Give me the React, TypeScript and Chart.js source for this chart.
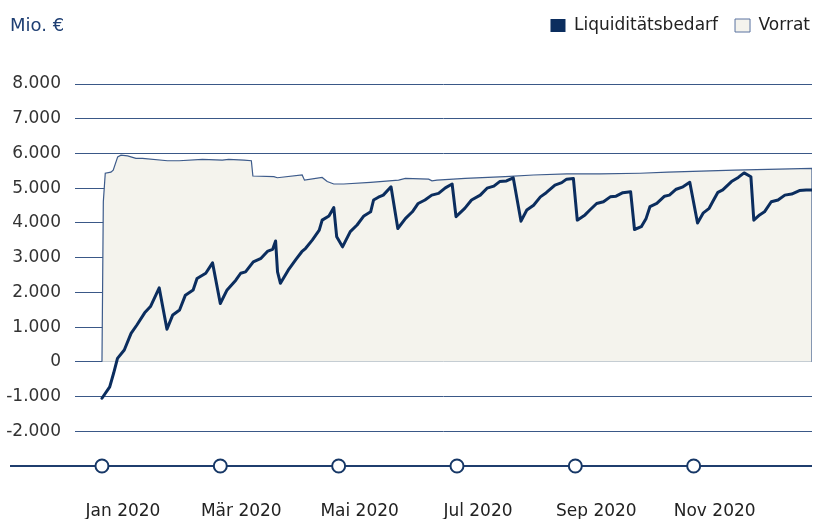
import { useEffect, useRef } from 'react';
import { Chart, registerables } from 'chart.js';

Chart.register(...registerables);

const FONT = "'DejaVu Sans', sans-serif";
const NAVY = '#0b2d5e';
const GRID = '#3a5887';
const FILL = '#f4f3ed';

// Liquiditätsbedarf: [day of year, Mio. €]
const liquiditaet: [number, number][] = [
  [0, -1050], [4, -720], [6, -330], [8, 100], [11.5, 340], [15, 820], [18, 1060], [22, 1410], [25, 1590],
  [29.5, 2130], [33.5, 940], [36.5, 1350], [40, 1490], [43, 1920], [47, 2070], [49, 2400], [53.5, 2550],
  [57, 2850], [61, 1680], [64.5, 2070], [69, 2350], [71.5, 2550], [74, 2590], [78, 2880], [82, 2980],
  [85.5, 3190], [88, 3240], [89.5, 3480], [90.5, 2590], [92, 2260], [96, 2640], [100, 2950], [103, 3170],
  [105, 3270], [108.5, 3510], [112, 3790], [113.5, 4080], [117, 4200], [119.5, 4440], [121, 3600],
  [124, 3310], [128, 3750], [131.5, 3940], [135, 4200], [138.5, 4320], [140, 4660], [142.5, 4740],
  [145, 4800], [149, 5040], [152.5, 3840], [156.5, 4130], [160, 4320], [163, 4560], [166.5, 4660],
  [170, 4800], [173.5, 4850], [177, 5010], [180.5, 5120], [182.5, 4180], [187, 4420], [190.5, 4660],
  [195, 4800], [198.5, 5000], [202, 5060], [205, 5190], [208.5, 5210], [212, 5300], [216, 4050],
  [219, 4370], [222.5, 4510], [226, 4750], [229, 4870], [233.5, 5090], [237, 5160], [239.5, 5260],
  [243, 5280], [245, 4080], [249, 4230], [251.5, 4370], [255, 4560], [258.5, 4610], [262, 4750],
  [265, 4770], [268.5, 4870], [272.5, 4900], [274.5, 3810], [278, 3890], [280.5, 4130], [282.5, 4470],
  [286, 4560], [290, 4770], [292.5, 4800], [296, 4970], [299.5, 5040], [303, 5170], [307, 4000],
  [310, 4290], [313, 4420], [315, 4630], [317.5, 4880], [320, 4950], [324.5, 5190], [328, 5310],
  [331, 5440], [334.5, 5330], [336, 4080], [339, 4230], [341.5, 4320], [345, 4610], [348.5, 4660],
  [352, 4800], [355.5, 4830], [359.5, 4930], [363, 4950], [366, 4950],
];

// Vorrat: [day of year, Mio. €]
const vorrat: [number, number][] = [
  [0, 0], [0.7, 4610], [1.7, 5430], [4.6, 5460], [5.8, 5520], [8.1, 5900], [9.8, 5950], [13.2, 5930],
  [17.5, 5860], [20.9, 5860], [33.8, 5790], [39.8, 5790], [51.8, 5830], [62, 5810], [65.3, 5830],
  [73.2, 5810], [77, 5790], [77.8, 5350], [88.6, 5330], [90.4, 5300], [103.2, 5380], [104.4, 5230],
  [113.5, 5310], [116.1, 5190], [119.5, 5120], [124.6, 5120], [138.4, 5170], [152.9, 5230],
  [156.4, 5280], [168.4, 5260], [170.1, 5210], [172.7, 5230], [187.2, 5280], [207.8, 5330],
  [222.4, 5380], [239.6, 5410], [256.7, 5410], [277.3, 5430], [291.7, 5460], [326.1, 5520],
  [366, 5570], [366, 0],
];

const tickDays = [0, 61, 122, 183, 244, 305];
const tickLabels = ['Jan 2020', 'Mär 2020', 'Mai 2020', 'Jul 2020', 'Sep 2020', 'Nov 2020'];
const timelineDays = [-47.4, 366];
const timelineValue = -3000;

const fmt = (v: number) => {
  const s = Math.abs(v).toString().replace(/\B(?=(\d{3})+(?!\d))/g, '.');
  return (v < 0 ? '-' : '') + s;
};

const layoutTweaks = {
  id: 'layoutTweaks',
  beforeLayout(chart: any) {
    const lg = chart.legend;
    if (lg && !lg._patched) {
      const fit = lg.fit.bind(lg);
      lg.fit = function () {
        fit();
        this.height = 84;
      };
      lg._patched = true;
    }
  },
  afterLayout(chart: any) {
    const lg = chart.legend;
    if (lg) {
      lg.left += 15;
      lg.right += 15;
    }
  },
};

export default function App() {
  const ref = useRef<HTMLCanvasElement>(null);

  useEffect(() => {
    Chart.defaults.font.family = FONT;
    const chart = new Chart(ref.current!, {
      type: 'line',
      data: {
        datasets: [
          {
            label: 'Liquiditätsbedarf',
            data: liquiditaet.map(([x, y]) => ({ x, y })),
            borderColor: NAVY,
            backgroundColor: NAVY,
            borderWidth: 3,
            borderJoinStyle: 'round',
            borderCapStyle: 'round',
            pointRadius: 0,
            fill: false,
            tension: 0,
            order: 1,
          },
          {
            label: 'Vorrat',
            data: vorrat.map(([x, y]) => ({ x, y })),
            borderColor: '#3d5b8b',
            backgroundColor: FILL,
            borderWidth: 1.2,
            pointRadius: 0,
            fill: 'origin',
            tension: 0,
            order: 2,
          },
          {
            label: 'timeline',
            data: timelineDays.map((x) => ({ x, y: timelineValue })),
            borderColor: '#1f3d6d',
            borderWidth: 2,
            pointRadius: 0,
            fill: false,
            clip: false,
            order: 0,
          } as any,
          {
            label: 'months',
            data: tickDays.map((x) => ({ x, y: timelineValue })),
            showLine: false,
            pointRadius: 6.5,
            pointBackgroundColor: '#ffffff',
            pointBorderColor: '#163766',
            pointBorderWidth: 2,
            clip: false,
            order: -1,
          } as any,
        ],
      },
      options: {
        animation: false,
        responsive: false,
        layout: { autoPadding: false, padding: { left: 6, right: 2 } },
        plugins: {
          tooltip: { enabled: false },
          legend: {
            position: 'top',
            align: 'end',
            labels: {
              boxWidth: 15,
              boxHeight: 13,
              padding: 17,
              color: '#222222',
              font: { size: 17, family: FONT },
              filter: (item: any) => item.text === 'Liquiditätsbedarf' || item.text === 'Vorrat',
              generateLabels: (c: any) =>
                Chart.defaults.plugins.legend.labels.generateLabels(c).map((l: any) => ({
                  ...l,
                  lineWidth: l.text === 'Vorrat' ? 1 : 0,
                  strokeStyle: l.text === 'Vorrat' ? '#5a73a0' : NAVY,
                })),
            },
          },
        },
        scales: {
          x: {
            type: 'linear',
            min: -13.9,
            max: 366,
            grid: { display: false, drawTicks: false },
            border: { display: false },
            afterBuildTicks: (scale: any) => {
              scale.ticks = tickDays.map((v) => ({ value: v }));
            },
            afterFit: (scale: any) => {
              scale.height = 53;
              scale.paddingLeft = 0;
              scale.paddingRight = 0;
            },
            ticks: {
              autoSkip: false,
              maxRotation: 0,
              padding: 35,
              labelOffset: 21,
              color: '#222222',
              font: { size: 17, family: FONT },
              callback: (_v: any, i: number) => tickLabels[i],
            },
          },
          y: {
            type: 'linear',
            min: -3000,
            max: 8000,
            afterFit: (scale: any) => {
              scale.width = 69;
              scale.paddingTop = 0;
              scale.paddingBottom = 0;
            },
            grid: {
              drawTicks: false,
              lineWidth: 1,
              color: (ctx: any) => (ctx.tick && ctx.tick.value === -3000 ? 'rgba(0,0,0,0)' : GRID),
            },
            border: { display: false },
            ticks: {
              stepSize: 1000,
              padding: 14,
              color: '#333333',
              font: { size: 17, family: FONT },
              callback: (v: any) => (Number(v) === -3000 ? '' : fmt(Number(v))),
            },
          },
        },
      },
      plugins: [layoutTweaks],
    } as any);
    return () => chart.destroy();
  }, []);

  return (
    <div style={{ position: 'fixed', left: 0, top: 0, width: 814, height: 519, background: '#fff', overflow: 'hidden' }}>
      <canvas ref={ref} width={814} height={519} style={{ display: 'block' }} />
      <div
        style={{
          position: 'absolute',
          left: 10,
          top: 16,
          font: `18px ${FONT}`,
          lineHeight: '18px',
          color: '#1f3f73',
          whiteSpace: 'nowrap',
        }}
      >
        Mio. €
      </div>
    </div>
  );
}
